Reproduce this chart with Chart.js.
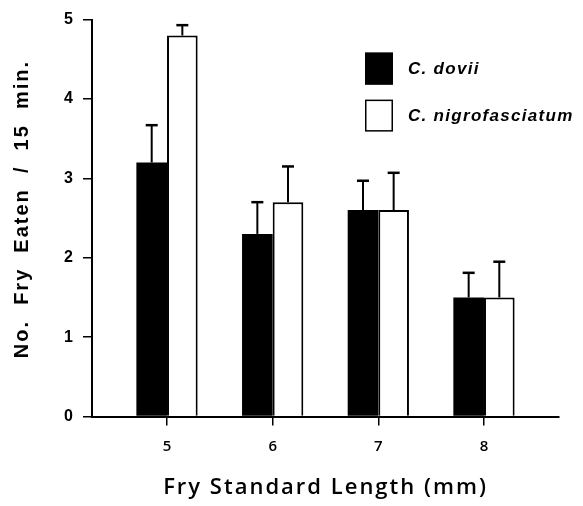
<!DOCTYPE html>
<html><head><meta charset="utf-8">
<script src="https://cdn.jsdelivr.net/npm/chart.js@4/dist/chart.umd.min.js"></script>
<style>html,body{margin:0;padding:0;background:#fff}#wrap{width:583px;height:506px;position:relative}</style>
</head><body><div id="wrap"><canvas id="c" width="583" height="506"></canvas></div>
<script>
const lengths = [5, 6, 7, 8];
const doviiMeans = [3.2, 2.3, 2.6, 1.5];
const doviiErr = [0.47, 0.40, 0.37, 0.31];
const nigroMeans = [4.8, 2.7, 2.6, 1.5];
const nigroErr = [0.13, 0.45, 0.47, 0.45];
const yTicks = [0, 1, 2, 3, 4, 5];
const seriesNames = ['C. dovii', 'C. nigrofasciatum'];
const xTitle = 'Fry Standard Length (mm)';
const yTitle = 'No.  Fry  Eaten  /  15  min.';

const errorSets = [doviiErr, nigroErr];

const errBars = {
  id: 'errBars',
  afterDatasetsDraw(chart) {
    const ctx = chart.ctx, ys = chart.scales.y;
    chart.data.datasets.forEach((ds, di) => {
      const meta = chart.getDatasetMeta(di);
      meta.data.forEach((bar, i) => {
        const v = ds.data[i].y;
        const top = ys.getPixelForValue(v + errorSets[di][i]);
        const base = ys.getPixelForValue(v);
        ctx.save();
        ctx.strokeStyle = '#000';
        ctx.lineWidth = 2;
        ctx.beginPath(); ctx.moveTo(bar.x, base); ctx.lineTo(bar.x, top); ctx.stroke();
        ctx.lineWidth = 2.5;
        ctx.beginPath(); ctx.moveTo(bar.x - 6, top); ctx.lineTo(bar.x + 6, top); ctx.stroke();
        ctx.restore();
      });
    });
  }
};

const legendBoxes = {
  id: 'legendBoxes',
  afterDraw(chart) {
    const ctx = chart.ctx, ca = chart.chartArea;
    const x0 = ca.left + 273, y0 = ca.top + 33;
    chart.data.datasets.forEach((ds, i) => {
      const y = y0 + i * 47;
      ctx.save();
      ctx.fillStyle = ds.backgroundColor;
      ctx.fillRect(x0, y, 28, 32);
      ctx.strokeStyle = '#000';
      ctx.lineWidth = 1.5;
      ctx.strokeRect(x0 + 0.75, y + 0.75, 26.5, 30.5);
      ctx.fillStyle = '#000';
      ctx.font = 'italic bold 17px "Liberation Sans", Arial, sans-serif';
      ctx.letterSpacing = '1.3px';
      ctx.textBaseline = 'middle';
      ctx.textAlign = 'left';
      ctx.fillText(ds.label, x0 + 43, y + 17);
      ctx.restore();
    });
  }
};

const titleStyle = { x: { spacing: 2, shift: 0 }, y: { spacing: 2, shift: -9 } };
const spacedTitles = {
  id: 'spacedTitles',
  beforeDraw(chart) {
    Object.keys(titleStyle).forEach(id => {
      const s = chart.scales[id];
      if (!s || s._spacedTitle) return;
      const cfg = titleStyle[id];
      const orig = s.drawTitle;
      s.drawTitle = function () {
        const ctx = this.ctx;
        ctx.save();
        ctx.letterSpacing = cfg.spacing + 'px';
        if (this.isHorizontal()) ctx.translate(cfg.shift, 0); else ctx.translate(0, cfg.shift);
        orig.call(this);
        ctx.restore();
      };
      s._spacedTitle = true;
    });
  }
};

new Chart(document.getElementById('c'), {
  type: 'bar',
  data: {
    datasets: [
      { label: seriesNames[0], data: lengths.map((x, i) => ({ x, y: doviiMeans[i] })),
        backgroundColor: '#000', borderColor: '#000', borderWidth: 0,
        categoryPercentage: 0.58, barPercentage: 1 },
      { label: seriesNames[1], data: lengths.map((x, i) => ({ x, y: nigroMeans[i] })),
        backgroundColor: '#fff', borderColor: '#000', borderWidth: 2,
        categoryPercentage: 0.58, barPercentage: 1 }
    ]
  },
  options: {
    responsive: false, animation: false, devicePixelRatio: 1,
    layout: { padding: { left: 0, top: 15, right: 24, bottom: 0 } },
    plugins: { legend: { display: false }, tooltip: { enabled: false } },
    scales: {
      x: {
        type: 'linear', min: 4.29, max: 8.71, offset: false,
        afterBuildTicks: s => { s.ticks = lengths.map(v => ({ value: v })); },
        afterFit: s => { s.height = 89.5; },
        grid: { display: true, offset: false, drawOnChartArea: false, drawTicks: true, tickLength: 9, color: '#000', lineWidth: 1.5 },
        border: { display: true, color: '#000', width: 2 },
        ticks: { color: '#000', padding: 12, maxRotation: 0, autoSkip: false,
          font: { family: '"Open Sans", sans-serif', size: 15, weight: '600' },
          callback: v => String(v) },
        title: { display: true, text: xTitle, color: '#000',
          font: { family: '"Open Sans", sans-serif', size: 22, weight: '600' },
          padding: { top: 0, bottom: 5 } }
      },
      y: {
        min: 0, max: 5,
        afterBuildTicks: s => { s.ticks = yTicks.map(v => ({ value: v })); },
        afterFit: s => { s.width = 92; },
        grid: { display: true, drawOnChartArea: false, drawTicks: true, tickLength: 9, color: '#000', lineWidth: 1.5 },
        border: { display: true, color: '#000', width: 2 },
        ticks: { color: '#000', padding: 10,
          font: { family: '"Liberation Sans", Arial, sans-serif', size: 16, weight: 'bold' } },
        title: { display: true, text: yTitle, color: '#000',
          font: { family: '"Liberation Sans", Arial, sans-serif', size: 20, weight: 'bold' },
          padding: { top: 10, bottom: 0 } }
      }
    }
  },
  plugins: [errBars, legendBoxes, spacedTitles]
});
</script></body></html>
